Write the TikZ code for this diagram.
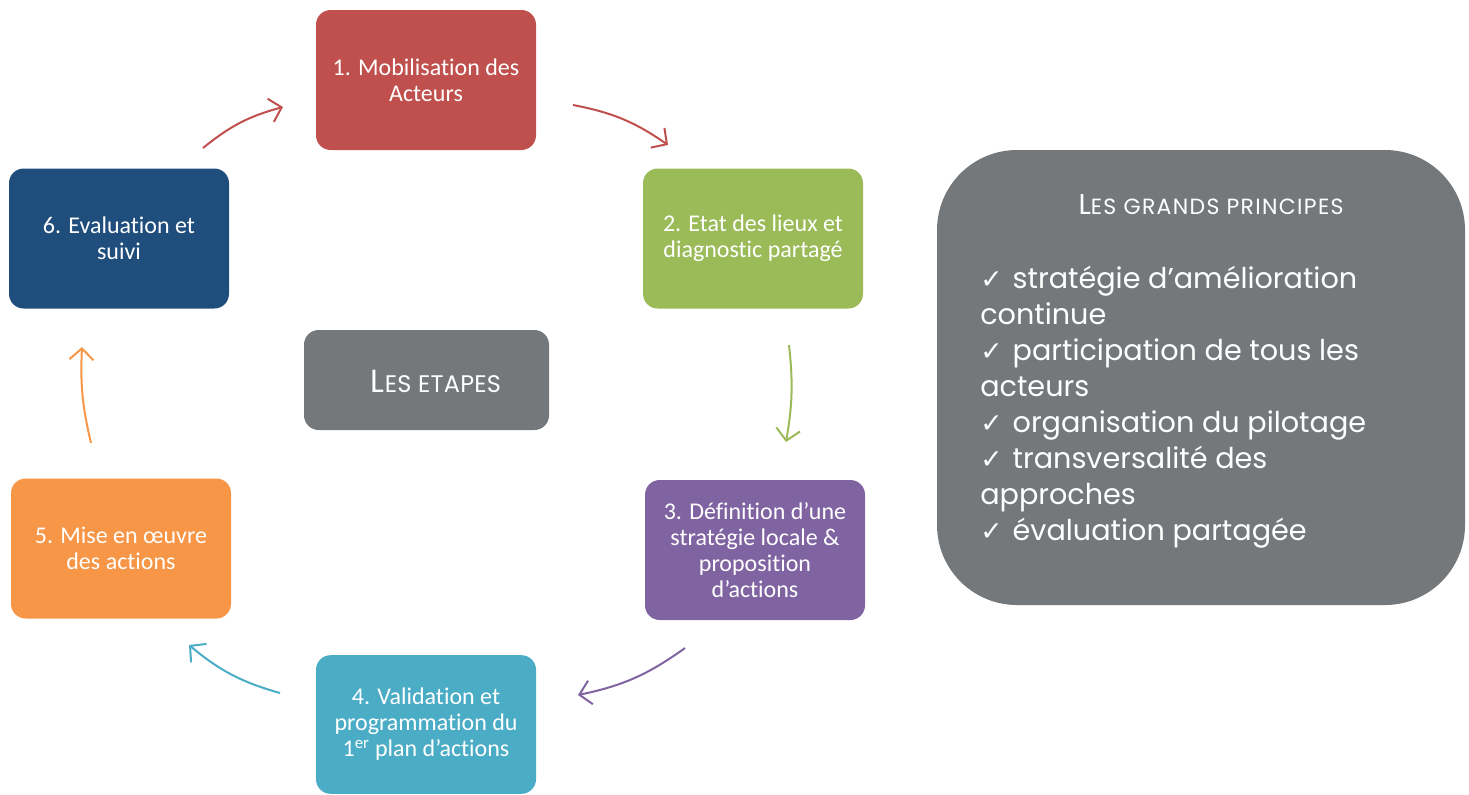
\documentclass[tikz,border=0pt]{standalone}
\usepackage{fontspec}
\setmainfont{Carlito}[Ligatures=NoCommon]
\newfontfamily\gothic{Poppins}
\newfontfamily\symf{DejaVu Sans}
\usetikzlibrary{arrows.meta}
\definecolor{cred}{HTML}{C0504D}
\definecolor{cgreen}{HTML}{9BBB59}
\definecolor{cpurple}{HTML}{8064A2}
\definecolor{cteal}{HTML}{4BACC6}
\definecolor{corange}{HTML}{F79646}
\definecolor{cblue}{HTML}{1F4E7D}
\definecolor{cgray}{HTML}{75787B}
\newcommand{\ck}{{\symf\fontsize{20pt}{20pt}\selectfont ✓}\hspace{0.35em}}
\begin{document}
\begin{tikzpicture}[x=0.75pt,y=-0.75pt,
  stepbox/.style={rounded corners=11pt, minimum width=165pt, minimum height=105pt,
    align=center, text=white, font=\fontsize{18pt}{19.5pt}\selectfont, inner sep=2pt},
  arr/.style={line width=1.5pt, -{Straight Barb[length=8.5pt,width=18pt,line width=1.5pt]}}]
\useasboundingbox (0,0) rectangle (1469,794);
% step boxes
\node[stepbox, fill=cred] (b1) at (426,80) {1. Mobilisation des\\Acteurs};
\node[stepbox, fill=cgreen] (b2) at (753,238.5) {2. Etat des lieux et\\diagnostic partagé};
\node[stepbox, fill=cpurple] (b3) at (755,550) {3. Définition d’une\\stratégie locale \&\\proposition\\d’actions};
\node[stepbox, fill=cteal, minimum height=104pt] (b4) at (426,724.5) {4. Validation et\\programmation du\\1\textsuperscript{er} plan d’actions};
\node[stepbox, fill=corange] (b5) at (121,548.5) {5. Mise en œuvre\\des actions};
\node[stepbox, fill=cblue] (b6) at (119,238.5) {6. Evaluation et\\suivi};
% center
\node[rounded corners=11pt, fill=cgray, minimum width=183.75pt, minimum height=75pt] (ctr) at (426.5,380) {};
\node[text=white, inner sep=0pt] (ctrlabel) at (436,381)
  {\gothic\addfontfeature{LetterSpace=1}\fontsize{24pt}{26pt}\selectfont L\fontsize{18pt}{20pt}\selectfont ES ETAPES};
% principles box
\node[rounded corners=60pt, fill=cgray, minimum width=396pt, minimum height=341.25pt] (pbox) at (1201,377.5) {};
\node[text=white, inner sep=0pt] (ptitle) at (1211,205)
  {\gothic\addfontfeature{LetterSpace=6}\fontsize{21.5pt}{22pt}\selectfont L\fontsize{16.5pt}{18pt}\selectfont ES GRANDS PRINCIPES};
\node[text=white, anchor=north west, align=left, inner sep=0pt,
  font=\gothic\fontsize{21.5pt}{27pt}\selectfont] (plist) at (980,266)
  {\ck stratégie d’amélioration\\continue\\\ck participation de tous les\\acteurs\\\ck organisation du pilotage\\\ck transversalité des\\approches\\\ck évaluation partagée};
% connectors
\coordinate (a1s) at (203,148); \coordinate (a1e) at (283,107);
\coordinate (a2s) at (573,105); \coordinate (a2e) at (668,145);
\coordinate (a3s) at (789,345); \coordinate (a3e) at (786,442);
\coordinate (a4s) at (685,648); \coordinate (a4e) at (578,695);
\coordinate (a5s) at (280,693); \coordinate (a5e) at (189,645);
\coordinate (a6s) at (91,443);  \coordinate (a6e) at (82,347);
\draw[arr, cred] (a1s) to[bend left=12] (a1e);
\draw[arr, cred] (a2s) to[bend left=12] (a2e);
\draw[arr, cgreen] (a3s) to[bend left=8] (a3e);
\draw[arr, cpurple] (a4s) to[bend left=12] (a4e);
\draw[arr, cteal] (a5s) to[bend left=12] (a5e);
\draw[arr, corange] (a6s) to[bend left=8] (a6e);
\end{tikzpicture}
\end{document}
